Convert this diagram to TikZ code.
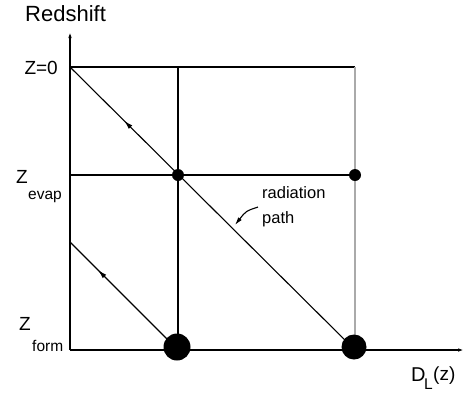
\documentclass[tikz,border=0pt]{standalone}
\usepackage{fontspec}
\setmainfont{Liberation Sans}
\usetikzlibrary{arrows.meta,decorations.markings}
\tikzset{
  axis/.style={line width=1.5pt,-{Latex[length=6pt,width=3.5pt]}},
  grid/.style={line width=1.3pt},
  greyline/.style={line width=1.5pt,draw={rgb,255:red,170;green,170;blue,170}},
  ray/.style={line width=1.1pt},
  rayarrow/.style={postaction={decorate},decoration={markings,mark=at position #1 with {\arrow{Latex[length=9pt,width=5pt]}}}},
  smalldot/.style={circle,fill=black,inner sep=0pt,minimum size=12pt},
  bigdot/.style={circle,fill=black,inner sep=0pt,minimum size=#1},
  lab/.style={font=\fontsize{19}{21}\selectfont,inner sep=0pt},
  sublab/.style={font=\fontsize{15.5}{17}\selectfont,inner sep=0pt},
}
\begin{document}
\begin{tikzpicture}[x=1pt,y=-1pt]
\useasboundingbox (0,0) rectangle (464,392);
% coordinates
\coordinate (O) at (70,350);
\coordinate (ytop) at (70,32);
\coordinate (xend) at (464,350);
\coordinate (z0l) at (70,67);
\coordinate (z0m) at (178,67);
\coordinate (z0r) at (355,67);
\coordinate (zel) at (70,175);
\coordinate (zem) at (178,175);
\coordinate (zer) at (355,175);
\coordinate (zfm) at (178,350);
\coordinate (zfr) at (355,350);
\coordinate (d2s) at (70,242);
% grid lines
\draw[grid] (z0l) -- (z0r);
\draw[grid] (zel) -- (zer);
\draw[grid] (z0m) -- (zfm);
\draw[greyline] (z0r) -- (zfr);
% rays
\draw[ray,rayarrow=0.81] (zfr) -- (z0l);
\draw[ray,rayarrow=0.74] (zfm) -- (d2s);
% axes
\draw[axis] (O) -- (ytop);
\draw[axis] (O) -- (xend);
% dots
\node[smalldot] (dem) at (zem) {};
\node[smalldot] (der) at (zer) {};
\node[bigdot=27pt] (dfm) at (177,347) {};
\node[bigdot=25pt] (dfr) at (354,347) {};
% labels
\node[font=\fontsize{22}{24}\selectfont,inner sep=0pt,anchor=base west] (red) at (25,21) {Redshift};
\node[lab,anchor=base east] (lz0) at (58,74) {Z=0};
\node[lab,anchor=base west] (lze) at (16,183) {Z};
\node[sublab,anchor=base west] (lzes) at (28,199) {evap};
\node[lab,anchor=base west] (lzf) at (19,330) {Z};
\node[sublab,anchor=base west] (lzfs) at (32,351) {form};
\node[font=\fontsize{20}{22}\selectfont,inner sep=0pt,anchor=base west] (ld) at (411,381) {D};
\node[sublab,anchor=base west] (lds) at (424,389) {L};
\node[lab,anchor=base west] (ldz) at (433,380) {(z)};
\node[font=\fontsize{16.5}{25}\selectfont,inner sep=0pt,anchor=north west,align=left] (rp) at (262,186) {radiation\\path};
\coordinate (lead) at (258,207);
\coordinate (leadend) at (235,225);
\draw[line width=1.1pt,-{Latex[length=8pt,width=4.5pt]}] (lead) .. controls (246,211) .. (leadend);
\end{tikzpicture}
\end{document}
